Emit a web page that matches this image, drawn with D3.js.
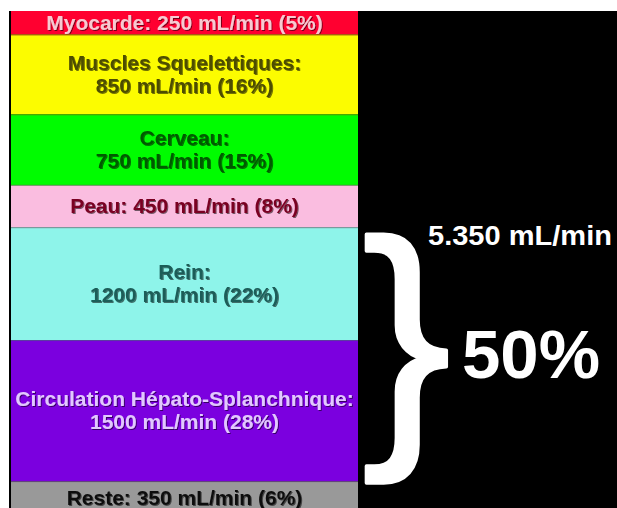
<!DOCTYPE html>
<html>
<head>
<meta charset="utf-8">
<script src="https://cdn.jsdelivr.net/npm/d3@7"></script>
<style>
  html, body { margin: 0; padding: 0; background: #ffffff; }
  svg { display: block; }
  text { font-family: "Liberation Sans", Arial, sans-serif; }
</style>
</head>
<body>
<script>
// Répartition du débit cardiaque au repos (mL/min)
const categories = ["Myocarde", "Muscles Squelettiques", "Cerveau", "Peau", "Rein", "Circulation Hépato-Splanchnique", "Reste"];
const flows = [250, 850, 750, 450, 1200, 1500, 350];
const percents = [5, 16, 15, 8, 22, 28, 6];
const twoLines = [false, true, true, false, true, true, false];
const fills = ["#ff0030", "#fcfc00", "#00fc00", "#fabde0", "#8ef4ea", "#7b00df", "#999999"];
const textColors = ["#f7c9d2", "#4d4d00", "#005a00", "#7a0022", "#1d5d59", "#e2c8ff", "#111111"];
const bracedCategories = ["Rein", "Circulation Hépato-Splanchnique"];
const totalLabel = "5.350 mL/min";
const bracedLabel = "50%";

const W = 617, H = 508;
const svg = d3.select("body").append("svg").attr("width", W).attr("height", H);

const defs = svg.append("defs");
const shadow = defs.append("filter").attr("id", "shadow")
  .attr("x", "-10%").attr("y", "-30%").attr("width", "120%").attr("height", "160%");
shadow.append("feDropShadow").attr("dx", 1).attr("dy", 1).attr("stdDeviation", 0.6)
  .attr("flood-color", "#000").attr("flood-opacity", 0.55);

// black panel
svg.append("rect").attr("x", 9).attr("y", 11).attr("width", W - 9).attr("height", H - 11).attr("fill", "#000");

const total = d3.sum(flows);
const starts = d3.cumsum([0].concat(flows.slice(0, -1)));
const data = categories.map((c, i) => ({
  name: c, flow: flows[i], pct: percents[i], two: twoLines[i],
  fill: fills[i], color: textColors[i], start: starts[i]
}));

const y = d3.scaleLinear().domain([0, total]).range([11, 11 + 503]);
const x = d3.scaleLinear().domain([0, 1]).range([11, 358]);

const seg = svg.append("g").selectAll("g").data(data).join("g");

seg.append("rect")
  .attr("x", x(0)).attr("width", x(1) - x(0))
  .attr("y", d => y(d.start)).attr("height", d => y(d.start + d.flow) - y(d.start))
  .attr("fill", d => d.fill);

// thin separators between segments
seg.filter((d, i) => i > 0).append("line")
  .attr("x1", x(0)).attr("x2", x(1))
  .attr("y1", d => y(d.start) + 0.5).attr("y2", d => y(d.start) + 0.5)
  .attr("stroke", (d, i) => d3.color(data[i].fill).darker(2))
  .attr("stroke-opacity", 0.55)
  .attr("stroke-width", 1);

const fs = 21, lh = 23;
seg.append("text")
  .attr("text-anchor", "middle")
  .attr("font-weight", "bold")
  .attr("font-size", fs)
  .attr("fill", d => d.color)
  .attr("filter", "url(#shadow)")
  .each(function (d) {
    const t = d3.select(this);
    const cy = (y(d.start) + y(d.start + d.flow)) / 2;
    const value = `${d.flow} mL/min (${d.pct}%)`;
    if (d.two) {
      t.append("tspan").attr("x", x(0.5)).attr("y", cy - lh / 2 + 7).text(d.name + ":");
      t.append("tspan").attr("x", x(0.5)).attr("y", cy + lh / 2 + 7).text(value);
    } else {
      t.append("tspan").attr("x", x(0.5)).attr("y", cy + 7).text(`${d.name}: ${value}`);
    }
  });

// brace spanning the braced segments
const bIdx = bracedCategories.map(c => categories.indexOf(c));
const bTop = y(starts[bIdx[0]]), bBot = y(starts[bIdx[1]] + flows[bIdx[1]]);
const braceSize = (bBot - bTop - 3) / 0.94;
svg.append("text")
  .attr("x", 358 + 4)
  .attr("y", bTop + 6 + 0.728 * braceSize)
  .attr("font-size", braceSize)
  .attr("fill", "#fff")
  .attr("stroke", "#fff")
  .attr("stroke-width", 3.5)
  .attr("stroke-linejoin", "round")
  .text("}");

svg.append("text")
  .attr("x", 428).attr("y", 245)
  .attr("font-weight", "bold").attr("font-size", 27)
  .attr("fill", "#fff")
  .attr("textLength", 184).attr("lengthAdjust", "spacingAndGlyphs")
  .text(totalLabel);

svg.append("text")
  .attr("x", 531).attr("y", 378)
  .attr("text-anchor", "middle")
  .attr("font-weight", "bold").attr("font-size", 69)
  .attr("fill", "#fff")
  .text(bracedLabel);
</script>
</body>
</html>
